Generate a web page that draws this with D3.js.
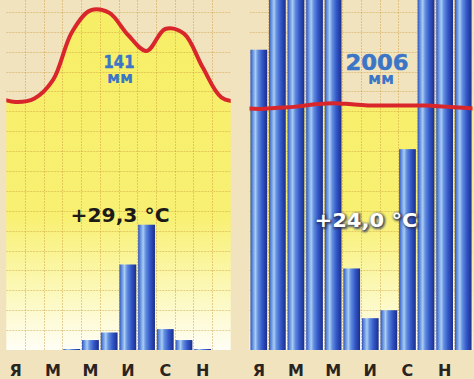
<!DOCTYPE html>
<html><head><meta charset="utf-8">
<script src="https://cdn.jsdelivr.net/npm/d3@7"></script>
<style>html,body{margin:0;padding:0;background:#f2e3bf;overflow:hidden}svg{display:block}</style>
</head><body><svg id="c" width="474" height="379"></svg>
<script>
// ---- data ----
const months = ["Jan","Feb","Mar","Apr","May","Jun","Jul","Aug","Sep","Oct","Nov","Dec"];
const tickMonths = ["Jan","Mar","May","Jul","Sep","Nov"];
const tickLabels = ["Я","М","М","И","С","Н"];
// station A (left): monthly precipitation, mm, and temperature, °C
const precipA = [0, 0, 0, 0.5, 5, 8.8, 43, 63, 10.5, 5, 0.5, 0];
const tempA   = [21.4, 21.7, 23.3, 27.4, 29.3, 29.1, 27.2, 25.8, 27.7, 27.3, 24.4, 21.8];
// station B (right)
const precipB = [151, 230, 280, 300, 220, 41, 16, 20, 101, 200, 220, 227];
const tempB   = [20.8, 20.9, 21.0, 21.2, 21.3, 21.2, 21.1, 21.1, 21.1, 21.1, 21.0, 20.9];
const totals = ["141", "2006"];
const unitLabel = "мм";
const tempLabels = ["+29,3 °C", "+24,0 °C"];

// ---- layout ----
const base = 350, topY = 0;
const svg = d3.select("#c");
const defs = svg.append("defs");

const barGrad = defs.append("linearGradient").attr("id","barGrad").attr("x1",0).attr("x2",1).attr("y1",0).attr("y2",0);
[[0,"#2f4fb8"],[0.1,"#5582d8"],[0.3,"#a9cdf4"],[0.45,"#628ee0"],[0.7,"#3358c8"],[1,"#1b2d8c"]]
  .forEach(([o,c])=>barGrad.append("stop").attr("offset",o).attr("stop-color",c));

const yelGrad = defs.append("linearGradient").attr("id","yelGrad").attr("gradientUnits","userSpaceOnUse")
  .attr("x1",0).attr("x2",0).attr("y1",0).attr("y2",base);
[[0,"#f7ee66"],[0.62,"#f8f072"],[0.8,"#fbf7ae"],[1,"#fffef6"]]
  .forEach(([o,c])=>yelGrad.append("stop").attr("offset",o).attr("stop-color",c));

const blur = defs.append("filter").attr("id","blur").attr("x","-20%").attr("y","-50%").attr("width","140%").attr("height","200%");
blur.append("feGaussianBlur").attr("stdDeviation",1.1);

const yMm = d3.scaleLinear().domain([0,176]).range([base, topY]);
const yT  = d3.scaleLinear().domain([0,30.2]).range([base, topY]);

const panels = [
  {x0:6.3, x1:230.7, precip:precipA, temp:tempA, total:totals[0], tlab:tempLabels[0],
   totX:119, totY:67.5, totFs:18.5, totLen:31,
   unitX:120, unitY:83, tX:120, tY:222, tFs:19, tLen:99, light:false},
  {x0:249.5, x1:472.5, precip:precipB, temp:tempB, total:totals[1], tlab:tempLabels[1],
   totX:377, totY:70, totFs:21, totLen:63,
   unitX:381, unitY:84, tX:366, tY:227, tFs:20, tLen:103, light:true}
];

panels.forEach((p, k) => {
  const cid = "clip" + k;
  defs.append("clipPath").attr("id", cid).append("rect")
    .attr("x", p.x0).attr("y", topY).attr("width", p.x1 - p.x0).attr("height", base - topY);
  const g = svg.append("g");
  const gc = g.append("g").attr("clip-path", `url(#${cid})`);

  const xb = d3.scaleBand().domain(months).range([p.x0, p.x1]).paddingInner(0.1).paddingOuter(0.05);
  const xc = d3.scaleLinear().domain([-0.5, 11.5]).range([p.x0, p.x1]);

  // temperature line points (cyclic year: Dec before Jan, Jan after Dec)
  const pts = [{i:-1, t:p.temp[11]}].concat(p.temp.map((t,i)=>({i,t})), [{i:12, t:p.temp[0]}]);
  const curve = d3.curveCatmullRom.alpha(0.5);

  gc.append("path").datum(pts)
    .attr("d", d3.area().x(d=>xc(d.i)).y0(base).y1(d=>yT(d.t)).curve(curve))
    .attr("fill", "url(#yelGrad)");

  // grid
  const grid = gc.append("g").attr("stroke", "#c9983c").attr("stroke-opacity", 0.45).attr("stroke-width", 1)
    .attr("stroke-dasharray", "2,1");
  grid.selectAll("line.h").data(d3.range(10, 180, 10)).join("line")
    .attr("x1", p.x0).attr("x2", p.x1).attr("y1", d=>Math.round(yMm(d))+0.5).attr("y2", d=>Math.round(yMm(d))+0.5);
  grid.selectAll("line.v").data(d3.range(1, 12)).join("line")
    .attr("y1", topY).attr("y2", base).attr("x1", d=>Math.round(xc(d-0.5))+0.5).attr("x2", d=>Math.round(xc(d-0.5))+0.5);

  // precipitation bars
  gc.selectAll("rect.bar").data(p.precip).join("rect")
    .attr("x", (d,i)=>xb(months[i])).attr("width", xb.bandwidth())
    .attr("y", d=>yMm(d)).attr("height", d=>base - yMm(d))
    .attr("fill", "url(#barGrad)");

  // temperature curve
  gc.append("path").datum(pts)
    .attr("d", d3.line().x(d=>xc(d.i)).y(d=>yT(d.t)).curve(curve))
    .attr("fill", "none").attr("stroke", "#d8262b").attr("stroke-width", 4).attr("stroke-linecap","round");

  // texts
  const font = "'DejaVu Sans', sans-serif";
  const tot = g.append("text").attr("fill", "#3b76c6").attr("font-weight","bold").attr("text-anchor","middle")
    .attr("font-family", font);
  tot.append("tspan").attr("x", p.totX).attr("y", p.totY)
    .attr("font-size", p.totFs).attr("stroke", "#3b76c6").attr("stroke-width", 0.5)
    .attr("textLength", p.totLen).attr("lengthAdjust","spacingAndGlyphs").text(p.total);
  tot.append("tspan").attr("x", p.unitX).attr("y", p.unitY)
    .attr("font-size", 16).text(unitLabel);

  if (p.light) {
    g.append("text").attr("x", p.tX+1).attr("y", p.tY+1).attr("text-anchor","middle")
      .attr("font-family", font).attr("font-weight","bold").attr("font-size", p.tFs)
      .attr("textLength", p.tLen).attr("lengthAdjust","spacingAndGlyphs")
      .attr("fill", "#2a335a").attr("stroke","#2a335a").attr("stroke-width",2.2)
      .attr("filter","url(#blur)").attr("opacity",0.85).text(p.tlab);
  }
  g.append("text").attr("x", p.tX).attr("y", p.tY).attr("text-anchor","middle")
    .attr("font-family", font).attr("font-weight","bold").attr("font-size", p.tFs)
    .attr("textLength", p.tLen).attr("lengthAdjust","spacingAndGlyphs")
    .attr("fill", p.light ? "#ffffff" : "#1c1a18").text(p.tlab);

  // month axis
  const ax = g.append("g").attr("transform", `translate(0,${base})`)
    .call(d3.axisBottom(xb).tickValues(tickMonths).tickFormat((d,i)=>tickLabels[i]).tickSize(0).tickPadding(15));
  ax.select(".domain").remove();
  ax.selectAll("text").attr("font-family", font).attr("font-weight","bold").attr("font-size", 16).attr("fill", "#2a2420");
});
</script></body></html>
